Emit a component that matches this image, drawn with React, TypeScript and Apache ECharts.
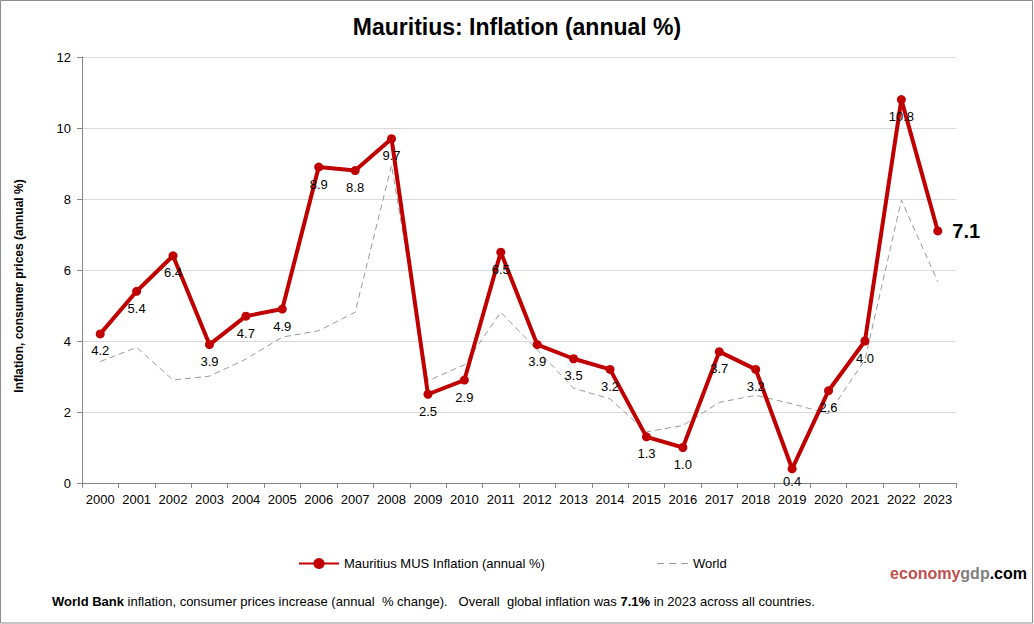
import { useEffect, useRef } from "react";
import * as echarts from "echarts";

const years = [
  "2000", "2001", "2002", "2003", "2004", "2005", "2006", "2007",
  "2008", "2009", "2010", "2011", "2012", "2013", "2014", "2015",
  "2016", "2017", "2018", "2019", "2020", "2021", "2022", "2023",
];

const mauritius = [
  4.2, 5.4, 6.4, 3.9, 4.7, 4.9, 8.9, 8.8, 9.7, 2.5, 2.9, 6.5,
  3.9, 3.5, 3.2, 1.3, 1.0, 3.7, 3.2, 0.4, 2.6, 4.0, 10.8, 7.1,
];

const world = [
  3.42, 3.82, 2.9, 3.01, 3.49, 4.11, 4.29, 4.81, 8.95, 2.88, 3.33, 4.81,
  3.75, 2.67, 2.37, 1.44, 1.62, 2.27, 2.47, 2.23, 1.95, 3.47, 7.97, 5.67,
];

const FONT = "'Liberation Sans', Arial, sans-serif";
const RED = "#c00000";
const MUS_NAME = "Mauritius MUS Inflation (annual %)";

export default function App() {
  const reference = useRef<HTMLDivElement>(null);

  useEffect(() => {
    const element = reference.current;
    if (element === null) return;
    document.body.style.margin = "0";
    const chart = echarts.init(element, undefined, { renderer: "svg" });
    const last = mauritius.length - 1;
    chart.setOption({
      animation: false,
      backgroundColor: "#ffffff",
      textStyle: { fontFamily: FONT, color: "#000" },
      title: {
        text: "Mauritius: Inflation (annual %)",
        left: "center",
        top: 10,
        textStyle: { fontFamily: FONT, fontSize: 23, fontWeight: "bold", color: "#000" },
      },
      grid: { left: 82, right: 78, top: 57, bottom: 141 },
      legend: [
        {
          left: 293,
          top: 552,
          itemWidth: 40,
          itemHeight: 14,
          itemGap: 0,
          textStyle: { fontFamily: FONT, fontSize: 13, color: "#000" },
          data: [{ name: MUS_NAME }],
        },
        {
          left: 652,
          top: 552,
          itemWidth: 31,
          itemHeight: 1.2,
          textStyle: { fontFamily: FONT, fontSize: 13, color: "#000" },
          data: [
            {
              name: "World",
              icon: "path://M0,0h7v1h-7zM12,0h7v1h-7zM24,0h7v1h-7z",
              itemStyle: { color: "#999999" },
            },
          ],
        },
      ],
      xAxis: {
        type: "category",
        data: years,
        boundaryGap: true,
        axisLine: { lineStyle: { color: "#868686" } },
        axisTick: { show: true, length: 5, lineStyle: { color: "#868686" } },
        axisLabel: { interval: 0, margin: 10, fontSize: 13, color: "#000", fontFamily: FONT },
      },
      yAxis: {
        type: "value",
        min: 0,
        max: 12,
        interval: 2,
        axisLine: { show: true, lineStyle: { color: "#868686" } },
        axisTick: { show: true, length: 5, lineStyle: { color: "#868686" } },
        axisLabel: { margin: 11, fontSize: 13, color: "#000", fontFamily: FONT },
        splitLine: { lineStyle: { color: "#d9d9d9" } },
      },
      series: [
        {
          name: "World",
          type: "line",
          data: world,
          showSymbol: false,
          symbol: "none",
          z: 1,
          lineStyle: { color: "#999999", width: 1, type: [6, 4] },
          itemStyle: { color: "#999999" },
        },
        {
          name: MUS_NAME,
          type: "line",
          z: 3,
          data: mauritius.map((value, index) => {
            if (index === last) {
              return {
                value,
                label: {
                  position: "right",
                  distance: 10,
                  fontSize: 20,
                  fontWeight: "bold",
                },
              };
            }
            // lowest point: keep its label just clear of the year labels
            if (value < 1) return { value, label: { distance: 2 } };
            return value;
          }),
          symbol: "circle",
          symbolSize: 9,
          lineStyle: { color: RED, width: 4 },
          itemStyle: { color: RED },
          label: {
            show: true,
            position: "bottom",
            distance: 6,
            fontSize: 13,
            color: "#000",
            fontFamily: FONT,
            formatter: (p: { value: number }) => Number(p.value).toFixed(1),
          },
        },
      ],
      graphic: [
        {
          type: "rect",
          shape: { x: 0.5, y: 0.5, width: 1032, height: 622.5 },
          style: { fill: "none", stroke: "#8c8c8c", lineWidth: 1 },
          silent: true,
        },
        {
          type: "text",
          x: 19,
          y: 286,
          rotation: Math.PI / 2,
          style: {
            text: "Inflation, consumer prices (annual %)",
            align: "center",
            verticalAlign: "middle",
            fill: "#000",
            fontSize: 12,
            fontWeight: "bold",
            fontFamily: FONT,
          },
        },
        {
          type: "text",
          x: 1027,
          y: 573,
          style: {
            text: "{a|economy}{b|gdp}{c|.com}",
            align: "right",
            verticalAlign: "middle",
            rich: {
              a: { fill: "#c0504d", fontSize: 16, fontWeight: "bold", fontFamily: FONT },
              b: { fill: "#808080", fontSize: 16, fontWeight: "bold", fontFamily: FONT },
              c: { fill: "#000000", fontSize: 16, fontWeight: "bold", fontFamily: FONT },
            },
          },
        },
        {
          type: "text",
          x: 52,
          y: 601,
          style: {
            text:
              "{b|World Bank}{n| inflation, consumer prices increase (annual  % change).   Overall  global inflation was }{b|7.1%}{n| in 2023 across all countries.}",
            verticalAlign: "middle",
            rich: {
              b: { fill: "#000", fontSize: 13, fontWeight: "bold", fontFamily: FONT },
              n: { fill: "#000", fontSize: 13, fontFamily: FONT },
            },
          },
        },
      ],
    });
    return () => {
      chart.dispose();
    };
  }, []);

  return (
    <div
      ref={reference}
      style={{ position: "absolute", left: 0, top: 0, width: 1034, height: 624 }}
    />
  );
}
